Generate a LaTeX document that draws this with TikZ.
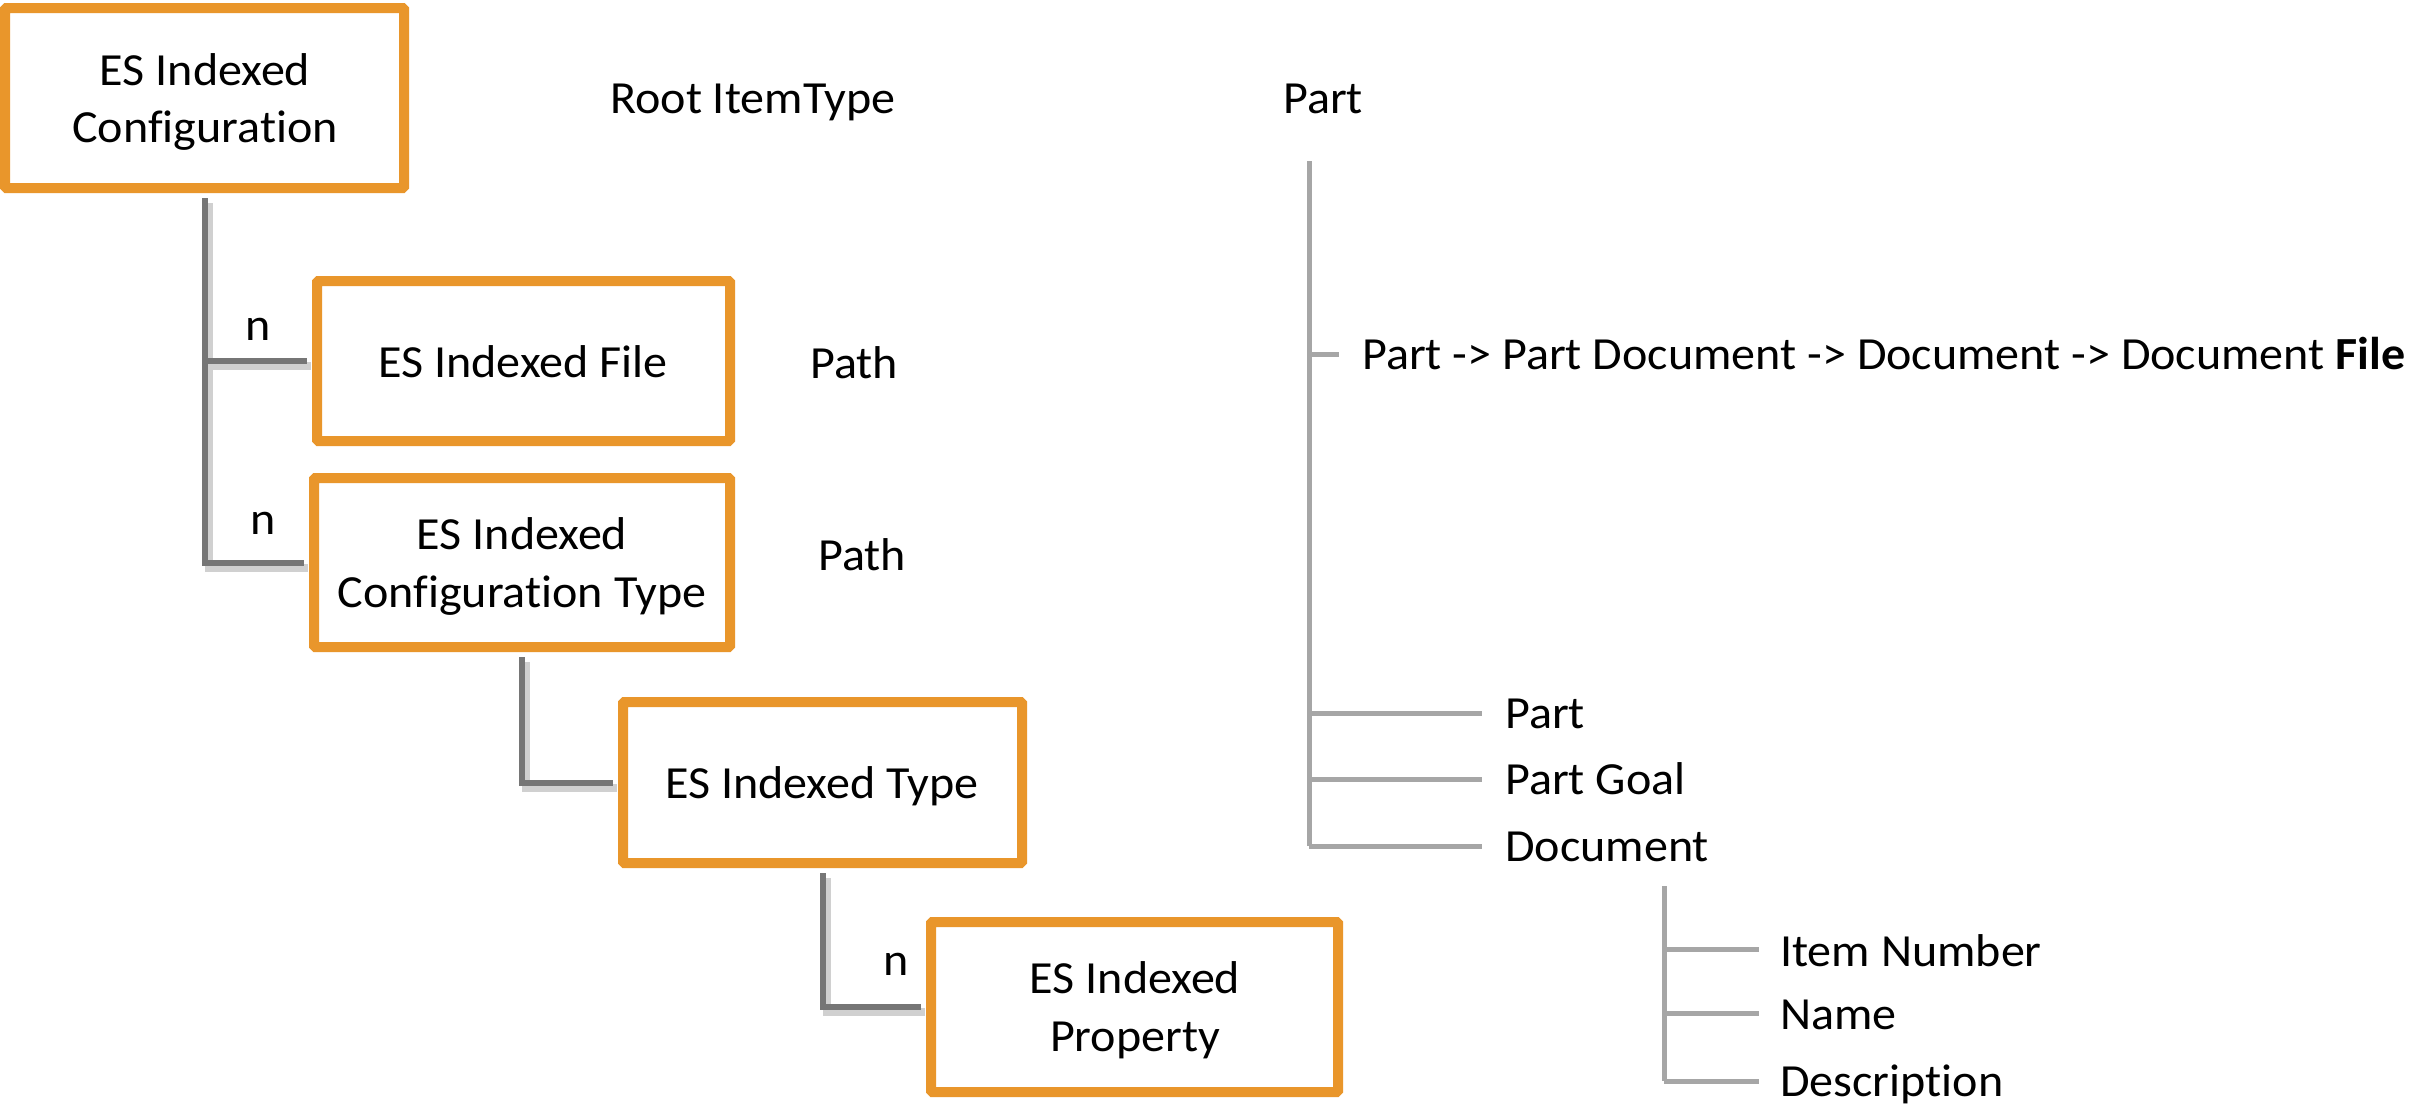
\documentclass[tikz,border=0pt]{standalone}
\usepackage{fontspec}
\setmainfont{Carlito}[Ligatures=NoCommon, FakeStretch=1.045]
\definecolor{orangeC}{RGB}{233,150,43}
\definecolor{connC}{RGB}{118,118,118}
\definecolor{shadC}{RGB}{208,208,208}
\definecolor{treeC}{RGB}{166,166,166}
\begin{document}
\begin{tikzpicture}[x=1pt,y=-1pt,
  ebox/.style={draw=orangeC, line width=10pt, rounded corners=1.5pt, fill=white, inner sep=0pt},
  txt/.style={inner sep=0pt, anchor=base, font=\fontsize{46}{58}\selectfont},
  ltxt/.style={txt, anchor=base west},
  conn/.style={draw=connC, line width=6pt, shorten <=5pt, shorten >=5pt},
  shad/.style={draw=shadC, line width=8pt, shorten <=5pt, shorten >=5pt, transform canvas={shift={(4pt,-5pt)}}},
  tree/.style={draw=treeC, line width=5pt}]
\useasboundingbox[fill=white] (0,0) rectangle (2420,1103);

% boxes
\node[ebox, minimum width=399pt, minimum height=180pt] (b1) at (204.5,98) {};
\node[ebox, minimum width=413pt, minimum height=160pt] (bfile) at (523.5,361) {};
\node[ebox, minimum width=416pt, minimum height=169pt] (bct) at (522,562.5) {};
\node[ebox, minimum width=399pt, minimum height=161pt] (btype) at (822.5,782.5) {};
\node[ebox, minimum width=407pt, minimum height=170pt] (bprop) at (1134.5,1007) {};

% box texts
\node[txt] (b1a) at (205,85) {ES Indexed};
\node[txt] (b1b) at (205,142) {Configuration};
\node[txt] (bfa) at (523,377) {ES Indexed File};
\node[txt] (bca) at (522,549) {ES Indexed};
\node[txt] (bcb) at (522,607) {Configuration Type};
\node[txt] (bta) at (822,798) {ES Indexed Type};
\node[txt] (bpa) at (1135,993) {ES Indexed};
\node[txt] (bpb) at (1135,1051) {Property};

% connectors
\draw[shad] (b1.south) |- (bfile.west);
\draw[shad] (b1.south) |- (bct.west);
\draw[shad] (bct.south) |- (btype.west);
\draw[shad] (btype.south) |- (bprop.west);
\draw[conn] (b1.south) |- (bfile.west);
\draw[conn] (b1.south) |- (bct.west);
\draw[conn] (bct.south) |- (btype.west);
\draw[conn] (btype.south) |- (bprop.west);

% n labels
\node[ltxt] (n1) at (245,340) {n};
\node[ltxt] (n2) at (250,534) {n};
\node[ltxt] (n3) at (883,975) {n};

% side labels
\node[ltxt] (root) at (610,113) {Root ItemType};
\node[ltxt] (path1) at (810,378) {Path};
\node[ltxt] (path2) at (818,570) {Path};

% right tree
\node[ltxt] (ptop) at (1283,113) {Part};
\coordinate (ta) at (1309,161);
\coordinate (tb) at (1309,846);
\draw[tree] (ta) -- (tb);
\coordinate (tk0) at (1309,354);
\coordinate (tk1) at (1339,354);
\draw[tree] (tk0) -- (tk1);
\node[ltxt] (pd) at (1362,369) {Part -> Part Document -> Document -> Document \textbf{File}};

\coordinate (j1) at (1309,713);
\coordinate (e1) at (1482,713);
\coordinate (j2) at (1309,779);
\coordinate (e2) at (1482,779);
\coordinate (e3) at (1482,846);
\draw[tree] (j1) -- (e1);
\draw[tree] (j2) -- (e2);
\draw[tree] (tb) -- (e3);
\node[ltxt] (rp) at (1505,728) {Part};
\node[ltxt] (rpg) at (1505,794) {Part Goal};
\node[ltxt] (rd) at (1505,861) {Document};

\coordinate (sa) at (1664,886);
\coordinate (sb) at (1664,1081);
\draw[tree] (sa) -- (sb);
\coordinate (s1) at (1664,949);
\coordinate (f1) at (1759,949);
\coordinate (s2) at (1664,1013);
\coordinate (f2) at (1759,1013);
\coordinate (f3) at (1759,1081);
\draw[tree] (s1) -- (f1);
\draw[tree] (s2) -- (f2);
\draw[tree] (sb) -- (f3);
\node[ltxt] (ri) at (1780,966) {Item Number};
\node[ltxt] (rn) at (1780,1029) {Name};
\node[ltxt] (rde) at (1780,1096) {Description};
\end{tikzpicture}
\end{document}
